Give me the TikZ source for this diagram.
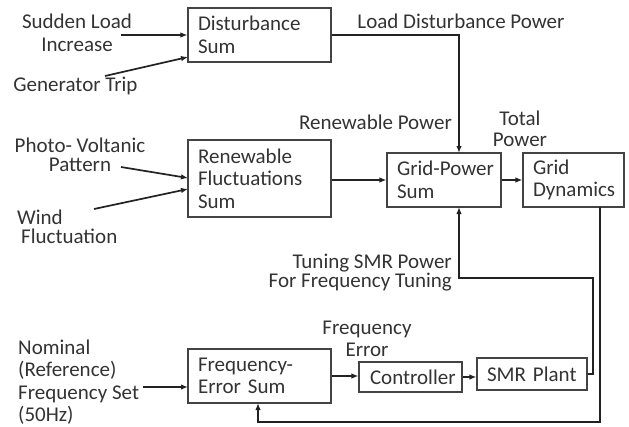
\documentclass[tikz,border=0pt]{standalone}
\usepackage{fontspec}
\setmainfont{Carlito}
\usetikzlibrary{arrows.meta,calc}
\definecolor{txt}{HTML}{333333}
\definecolor{ln}{HTML}{222222}
\begin{document}
\begin{tikzpicture}[x=1pt,y=-1pt,
  every node/.style={font=\fontsize{21}{22.5}\selectfont, text=txt},
  box/.style={draw=ln!85, line width=1.1pt, align=left, inner xsep=10pt, inner ysep=0pt},
  lbl/.style={inner sep=0pt},
  conn/.style={draw=ln, line width=1.7pt, -{Latex[length=7pt,width=5.5pt]}}]
\useasboundingbox (0,0) rectangle (629,426);
% boxes
\node[box, text width=123pt, minimum height=54pt] (dist) at (259.5,35) {Disturbance\\Sum};
\node[box, text width=123pt, minimum height=77pt] (ren) at (259.5,178.5) {Renewable\\Fluctuations\\Sum};
\node[box, text width=104pt, inner xsep=5pt, minimum height=54pt] (grid) at (444,180) {\hspace*{5pt}Grid-Power\\\hspace*{5pt}Sum};
\node[box, text width=89pt, inner xsep=6pt, minimum height=54pt] (dyn) at (573.5,180) {\hspace*{4pt}Grid\\\hspace*{4pt}Dynamics};
\node[box, text width=123pt, minimum height=54pt] (fes) at (259.5,376) {Frequency-\\Error Sum};
\node[box, text width=91pt, inner xsep=6pt, minimum height=30pt] (ctrl) at (410.5,377) {\hspace*{5pt}Controller};
\node[box, text width=96pt, inner xsep=7pt, minimum height=32pt] (smr) at (532,374) {\hspace*{3pt}SMR Plant};
% labels
\node[lbl, align=center] (sl) at (77,33) {Sudden Load\\Increase};
\node[lbl] (gt) at (75.5,86) {Generator Trip};
\node[lbl] (ldp) at (461,21) {Load Disturbance Power};
\node[lbl, anchor=east] (rp) at (452,122) {Renewable Power};
\node[lbl, align=center] (tp) at (520,129) {Total\\[-1pt]Power};
\node[lbl, align=center] (pv) at (80,155) {Photo- Voltanic\\[-3pt]Pattern};
\node[lbl, align=left, anchor=west] (wf) at (17,227) {Wind\\[-3pt]\hspace*{4pt}Fluctuation};
\node[lbl, align=right, anchor=east] (ts) at (452,272.5) {Tuning SMR Power\\[-3pt]For Frequency Tuning};
\node[lbl, align=left, anchor=west] (nom) at (18,382) {Nominal\\(Reference)\\Frequency Set\\(50Hz)};
\node[lbl, align=center] (fe) at (367,339) {Frequency\\[-1pt]Error};
% coordinates
\coordinate (s1) at (121,35);
\coordinate (g1) at (105,76);
\coordinate (dIn2) at (188,57);
\coordinate (p1) at (121,167);
\coordinate (rIn1) at (188,178);
\coordinate (w1) at (94,209);
\coordinate (rIn2) at (188,189);
\coordinate (gin) at (459,153);
\coordinate (gout) at (459,207);
\coordinate (dout) at (600,207);
\coordinate (c1) at (600,422);
\coordinate (c3) at (593,278);
\coordinate (n1) at (143,387);
\coordinate (fIn) at (188,387);
\coordinate (fbot) at (258,403);
% connectors
\draw[conn] (s1) -- (dist.west);
\draw[conn] (g1) -- (dIn2);
\draw[conn] (dist.east) -| (gin);
\draw[conn] (p1) -- (rIn1);
\draw[conn] (w1) -- (rIn2);
\draw[conn] (ren.east |- grid.west) -- (grid.west);
\draw[conn] (grid.east) -- (dyn.west);
\draw[conn] (dout) -- (c1) -| (fbot);
\draw[conn] (smr.east) -| (c3) -| (gout);
\draw[conn] (n1) -- (fIn);
\draw[conn] (fes.east) -- (ctrl.west |- fes.east);
\draw[conn] (ctrl.east) -- (smr.west |- ctrl.east);
\end{tikzpicture}
\end{document}
